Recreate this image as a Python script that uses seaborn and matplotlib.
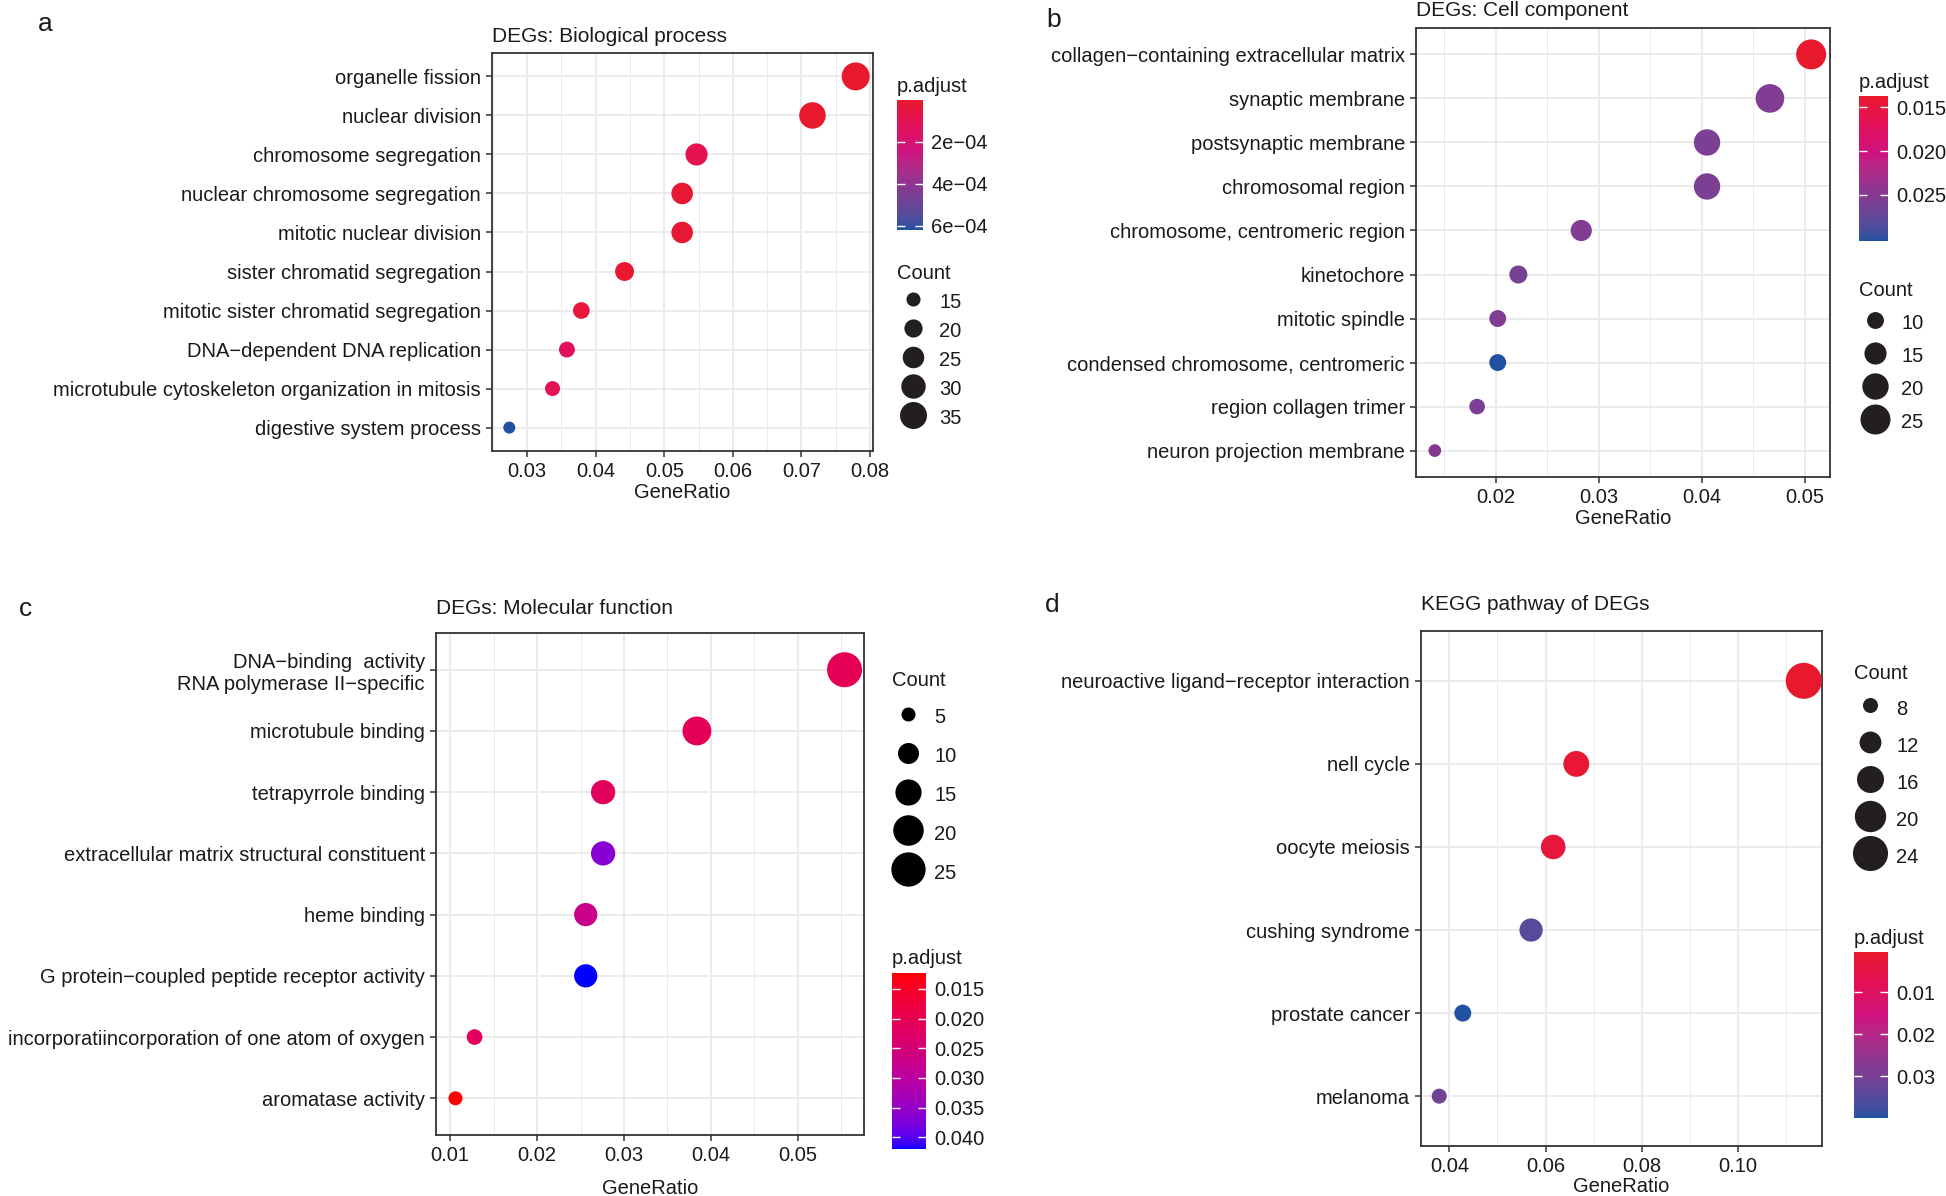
"""Four enrichment dot plots (GO BP / CC / MF and KEGG) for the DEGs."""

import matplotlib
matplotlib.use("Agg")
import matplotlib.pyplot as plt
import numpy as np
import pandas as pd
import seaborn as sns
from matplotlib.cm import ScalarMappable
from matplotlib.colors import ListedColormap, Normalize, to_rgb
from matplotlib.lines import Line2D
from matplotlib.ticker import FixedLocator, FormatStrFormatter

# ---- data -----------------------------------------------------------------
bp_terms = ["organelle fission", "nuclear division", "chromosome segregation",
            "nuclear chromosome segregation", "mitotic nuclear division",
            "sister chromatid segregation", "mitotic sister chromatid segregation",
            "DNA−dependent DNA replication",
            "microtubule cytoskeleton organization in mitosis",
            "digestive system process"]
bp_ratio = [0.0779, 0.0716, 0.0547, 0.0526, 0.0526, 0.0442, 0.0379, 0.0358, 0.0337, 0.0274]
bp_count = [37, 34, 26, 25, 25, 21, 18, 17, 16, 13]
bp_padj = [2e-6, 3e-6, 9e-5, 2e-5, 2e-5, 1.5e-5, 4e-5, 1.3e-4, 1.0e-4, 6.2e-4]
bp_xticks = [0.03, 0.04, 0.05, 0.06, 0.07, 0.08]
bp_ptick = [2e-4, 4e-4, 6e-4]
bp_ptick_labels = ["2e−04", "4e−04", "6e−04"]
bp_size_breaks = [15, 20, 25, 30, 35]

cc_terms = ["collagen−containing extracellular matrix", "synaptic membrane",
            "postsynaptic membrane", "chromosomal region",
            "chromosome, centromeric region", "kinetochore", "mitotic spindle",
            "condensed chromosome, centromeric", "region collagen trimer",
            "neuron projection membrane"]
cc_ratio = [0.0506, 0.0466, 0.0405, 0.0405, 0.0283, 0.0222, 0.0202, 0.0202, 0.0182, 0.0141]
cc_count = [25, 23, 20, 20, 14, 11, 10, 10, 9, 7]
cc_padj = [0.0137, 0.0255, 0.0258, 0.0258, 0.0255, 0.0262, 0.0255, 0.0303, 0.0258, 0.0252]
cc_xticks = [0.02, 0.03, 0.04, 0.05]
cc_ptick = [0.015, 0.020, 0.025]
cc_ptick_labels = ["0.015", "0.020", "0.025"]
cc_size_breaks = [10, 15, 20, 25]

mf_terms = ["DNA−binding  activity\nRNA polymerase II−specific", "microtubule binding",
            "tetrapyrrole binding", "extracellular matrix structural constituent",
            "heme binding", "G protein−coupled peptide receptor activity",
            "incorporatiincorporation of one atom of oxygen", "aromatase activity"]
mf_ratio = [0.0554, 0.0384, 0.0276, 0.0276, 0.0256, 0.0256, 0.0128, 0.0106]
mf_count = [26, 18, 13, 13, 12, 12, 6, 5]
mf_padj = [0.0205, 0.0205, 0.0215, 0.0365, 0.0275, 0.0420, 0.0215, 0.0123]
mf_xticks = [0.01, 0.02, 0.03, 0.04, 0.05]
mf_ptick = [0.015, 0.020, 0.025, 0.030, 0.035, 0.040]
mf_ptick_labels = ["0.015", "0.020", "0.025", "0.030", "0.035", "0.040"]
mf_size_breaks = [5, 10, 15, 20, 25]

kegg_terms = ["neuroactive ligand−receptor interaction", "nell cycle", "oocyte meiosis",
              "cushing syndrome", "prostate cancer", "melanoma"]
kegg_ratio = [0.1137, 0.0664, 0.0616, 0.0570, 0.0428, 0.0379]
kegg_count = [25, 15, 14, 13, 9, 8]
kegg_padj = [0.0005, 0.002, 0.003, 0.035, 0.0399, 0.031]
kegg_xticks = [0.04, 0.06, 0.08, 0.10]
kegg_ptick = [0.01, 0.02, 0.03]
kegg_ptick_labels = ["0.01", "0.02", "0.03"]
kegg_size_breaks = [8, 12, 16, 20, 24]

# ---- helpers --------------------------------------------------------------
W, H = 1946, 1196
FS = 14.5
TXT = "#1a1a1a"

plt.rcParams["font.family"] = ["Liberation Sans", "DejaVu Sans"]

_M = np.array([[0.4124, 0.3576, 0.1805], [0.2126, 0.7152, 0.0722], [0.0193, 0.1192, 0.9505]])
_WHITE = np.array([0.95047, 1.0, 1.08883])


def rgb_to_lab(rgb):
    c = np.asarray(rgb, dtype=float)
    lin = np.where(c <= 0.04045, c / 12.92, ((c + 0.055) / 1.055) ** 2.4)
    xyz = _M @ lin / _WHITE
    f = np.where(xyz > 0.008856, np.cbrt(xyz), 7.787 * xyz + 16 / 116)
    return np.array([116 * f[1] - 16, 500 * (f[0] - f[1]), 200 * (f[1] - f[2])])


def lab_to_rgb(lab):
    L, a, b = lab
    fy = (L + 16) / 116
    f = np.array([fy + a / 500, fy, fy - b / 200])
    xyz = np.where(f ** 3 > 0.008856, f ** 3, (f - 16 / 116) / 7.787) * _WHITE
    lin = np.clip(np.linalg.solve(_M, xyz), 0, 1)
    c = np.where(lin <= 0.0031308, 12.92 * lin, 1.055 * lin ** (1 / 2.4) - 0.055)
    return np.clip(c, 0, 1)


def lab_cmap(stops, n=256):
    # piecewise gradient interpolated in Lab, like ggplot's colour gradients
    pos = np.array([p for p, _ in stops])
    labs = np.array([rgb_to_lab(to_rgb(c)) for _, c in stops])
    colors = []
    for t in np.linspace(0, 1, n):
        lab = [np.interp(t, pos, labs[:, k]) for k in range(3)]
        colors.append(lab_to_rgb(lab))
    return ListedColormap(colors)


def px(left, top, right, bottom):
    return [left / W, 1 - bottom / H, (right - left) / W, (bottom - top) / H]


def dot_panel(fig, box, terms, ratio, count, padj, xticks, sizes, cmap, title, labelpad):
    ax = fig.add_axes(px(*box))
    df = pd.DataFrame({"Description": terms, "GeneRatio": ratio,
                       "Count": count, "p.adjust": padj})
    norm = Normalize(min(padj), max(padj))
    sns.scatterplot(data=df, x="GeneRatio", y="Description", hue="p.adjust",
                    hue_norm=norm, palette=cmap, size="Count", sizes=sizes,
                    size_norm=(min(count), max(count)), linewidth=0,
                    legend=False, ax=ax, zorder=3)
    lo, hi = min(ratio), max(ratio)
    pad = 0.05 * (hi - lo)
    ax.set_xlim(lo - pad, hi + pad)
    ax.set_ylim(len(terms) - 0.4, -0.6)

    step = xticks[1] - xticks[0]
    ax.xaxis.set_major_locator(FixedLocator(xticks))
    ax.xaxis.set_minor_locator(FixedLocator([t - step / 2 for t in xticks + [xticks[-1] + step]]))
    ax.xaxis.set_major_formatter(FormatStrFormatter("%.2f"))
    ax.set_axisbelow(True)
    ax.grid(True, which="major", color="#EBEBEB", lw=1.4)
    ax.xaxis.grid(True, which="minor", color="#EBEBEB", lw=0.7)
    for s in ax.spines.values():
        s.set_color("#333333")
        s.set_linewidth(1.3)
    ax.tick_params(which="major", length=4, width=1.1, color="#333333",
                   labelsize=FS, labelcolor=TXT, pad=4)
    ax.tick_params(which="minor", length=0)
    ax.set_xlabel("GeneRatio", fontsize=FS, color=TXT, labelpad=labelpad)
    ax.set_ylabel("")
    fig.text(box[0] / W, 1 - title[1] / H, title[0], fontsize=FS + 0.5,
             color=TXT, va="center", ha="left")
    return ax, norm


def add_colorbar(fig, box, norm, cmap, ticks, labels):
    cax = fig.add_axes(px(*box))
    cb = fig.colorbar(ScalarMappable(norm=norm, cmap=cmap), cax=cax)
    cb.outline.set_visible(False)
    cax.invert_yaxis()
    cb.set_ticks(ticks, labels=labels)
    cax.tick_params(direction="in", length=6, width=1.0, color="white",
                    left=True, right=True, labelsize=FS, labelcolor=TXT, pad=6)
    fig.text(box[0] / W, 1 - (box[1] - 14) / H, "p.adjust", fontsize=FS,
             color=TXT, va="center", ha="left")


def add_size_legend(fig, anchor, breaks, count, sizes, color, hh, ls):
    cmin, cmax = min(count), max(count)
    handles = []
    for b in breaks:
        s = sizes[0] + (b - cmin) / (cmax - cmin) * (sizes[1] - sizes[0])
        handles.append(Line2D([], [], marker="o", linestyle="", markersize=np.sqrt(s),
                              markerfacecolor=color, markeredgewidth=0))
    leg = fig.legend(handles, [str(b) for b in breaks], title="Count",
                     loc="upper left", bbox_to_anchor=(anchor[0] / W, 1 - anchor[1] / H),
                     frameon=False, fontsize=FS, title_fontsize=FS, alignment="left",
                     borderpad=0, handlelength=1.6, handleheight=hh, labelspacing=ls,
                     handletextpad=0.5, borderaxespad=0)
    for t in leg.get_texts():
        t.set_color(TXT)
    leg.get_title().set_color(TXT)


# ---- figure ---------------------------------------------------------------
fig = plt.figure(figsize=(W / 100, H / 100), dpi=100)

soft = lab_cmap([(0.0, "#E8192C"), (0.2, "#E3105A"), (0.4, "#CC1480"),
                 (0.65, "#8C3690"), (1.0, "#2151A1")])
pure = lab_cmap([(0.0, "#FF0000"), (1.0, "#0000FF")])

# a
ax, norm = dot_panel(fig, (492, 53, 873, 451), bp_terms, bp_ratio, bp_count, bp_padj,
                     bp_xticks, (75, 406), soft, ("DEGs: Biological process", 36), 1)
add_colorbar(fig, (897, 100, 923, 230), norm, soft, bp_ptick, bp_ptick_labels)
add_size_legend(fig, (897, 264), bp_size_breaks, bp_count, (75, 406), "#231F20", 1.2, 0.39)

# b
ax, norm = dot_panel(fig, (1416, 28, 1830, 477), cc_terms, cc_ratio, cc_count, cc_padj,
                     cc_xticks, (84, 467), soft, ("DEGs: Cell component", 11), 1)
add_colorbar(fig, (1859, 96, 1888, 241), norm, soft, cc_ptick, cc_ptick_labels)
add_size_legend(fig, (1859, 281), cc_size_breaks, cc_count, (84, 467), "#231F20", 1.3, 0.55)

# c
ax, norm = dot_panel(fig, (436, 633, 864, 1135), mf_terms, mf_ratio, mf_count, mf_padj,
                     mf_xticks, (102, 635), pure, ("DEGs: Molecular function", 608), 10)
add_colorbar(fig, (892, 973, 926, 1149), norm, pure, mf_ptick, mf_ptick_labels)
add_size_legend(fig, (892, 671), mf_size_breaks, mf_count, (102, 635), "black", 1.5, 0.71)

# d
ax, norm = dot_panel(fig, (1421, 631, 1822, 1146), kegg_terms, kegg_ratio, kegg_count,
                     kegg_padj, kegg_xticks, (117, 672), soft, ("KEGG pathway of DEGs", 604), 1)
add_colorbar(fig, (1854, 952, 1888, 1118), norm, soft, kegg_ptick, kegg_ptick_labels)
add_size_legend(fig, (1854, 664), kegg_size_breaks, kegg_count, (117, 672), "#231F20", 1.45, 0.65)

# panel letters
for letter, x, y in [("a", 45, 24), ("b", 1054, 20), ("c", 25, 609), ("d", 1052, 605)]:
    fig.text(x / W, 1 - y / H, letter, fontsize=19, color=TXT, ha="center", va="center")

fig.savefig("out.png", dpi=100, facecolor="white")
